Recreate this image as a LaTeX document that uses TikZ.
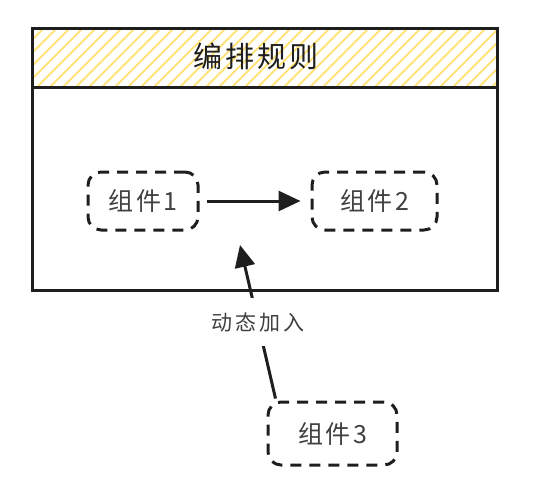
\documentclass[tikz,border=0pt]{standalone}
\usepackage{fontspec}
\newfontfamily\cjk{Noto Sans CJK SC}
\newfontfamily\cjkwideA[LetterSpace=10]{Noto Sans CJK SC}
\newfontfamily\cjkwideB[LetterSpace=15]{Noto Sans CJK SC}
\usetikzlibrary{arrows.meta,calc}
\definecolor{hatch}{HTML}{FFE27A}
\definecolor{ink}{HTML}{1E1E1E}
\tikzset{
  comp/.style={draw=ink, line width=3pt, dash pattern=on 11pt off 8pt, rounded corners=13pt, font=\cjkwideA\fontsize{25}{28}\selectfont, text=ink!85},
  conn/.style={draw=ink, line width=3pt, -{Triangle[length=22pt,width=20pt]}},
}
\begin{document}
\begin{tikzpicture}[x=1pt,y=-1pt]
\useasboundingbox (0,0) rectangle (546,485);
% hatching of header
\begin{scope}
  \clip (32,28) rectangle (497,87);
  \foreach \i in {-80,-67,...,520} {
    \draw[hatch, line width=1.8pt] (\i,100) -- (\i+80,20);
  }
\end{scope}
% outer box
\draw[ink, line width=3pt] (32,28) rectangle (497,290);
\draw[ink, line width=3pt] (32,87) -- (497,87);
\node[font=\cjkwideA\fontsize{29}{32}\selectfont, text=ink] (title) at (256,56) {编排规则};
% components
\node[comp, minimum width=110pt, minimum height=58pt] (c1) at (143,201) {组件1};
\node[comp, minimum width=125pt, minimum height=58pt] (c2) at (374.5,201) {组件2};
\node[comp, minimum width=129pt, minimum height=63pt] (c3) at (332.5,433.5) {组件3};
\draw[conn, shorten <=7pt, shorten >=10pt] (c1.east) -- (c2.west);
\coordinate (s) at ($(c3.north west)+(9,-2)$);
\coordinate (tip) at (240,245);
\draw[conn] (s) -- (tip);
\node[fill=white, minimum height=48pt, inner xsep=2pt, font=\cjkwideB\fontsize{21}{24}\selectfont, text=ink!85] (lbl) at (258,322) {动态加入};
\end{tikzpicture}
\end{document}
